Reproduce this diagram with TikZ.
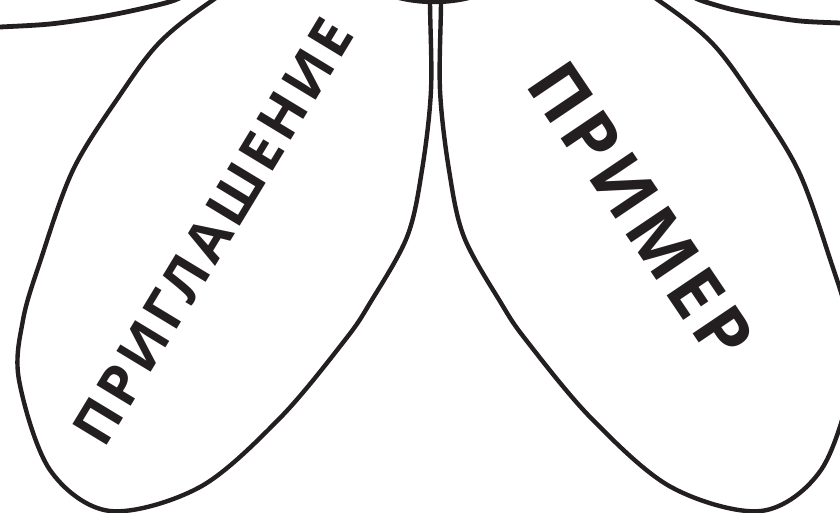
\documentclass[tikz,border=0pt]{standalone}
\usepackage{fontspec}
\setmainfont{Open Sans}
\definecolor{ink}{HTML}{231F20}
\newcommand\leftlabelfont{\fontsize{56}{66}\selectfont\bfseries}
\newcommand\rightlabelfont{\fontsize{72}{84}\selectfont\bfseries}
\newlength\natw
% #1 = word, #2 = number of letters, #3 = target width, #4 = font size (pt)
\newcommand\spreadword[4]{%
  \settowidth\natw{#1}%
  \pgfmathsetmacro\lsval{((#3)-\natw)/((#2)-1)/(#4)*100}%
  \addfontfeature{LetterSpace=\lsval}#1}
\tikzset{
  petalline/.style={draw=ink, line width=4.4pt},
  topline/.style={draw=ink, line width=4.8pt},
  petallabel/.style={inner sep=0pt, text=ink, anchor=center},
}
\begin{document}
\begin{tikzpicture}[x=1pt,y=-1pt]
\useasboundingbox (0,0) rectangle (840,513);
\clip (0,0) rectangle (840,513);
% upper side petals (only their lower edges are visible)
\draw[topline] plot[smooth] coordinates {(-30,28) (0,27) (50,24) (100,17) (140,9) (175,0) (200,-14)};
\draw[topline] plot[smooth] coordinates {(870,24) (840,23) (800,21) (760,15) (730,9) (700,0) (680,-10)};
% left petal
\draw[petalline, fill=white] plot[smooth cycle, tension=0.55] coordinates {
  (431,-70) (430,0) (431,90) (422,170) (407,237) (370,303) (345,340) (280,418)
  (200,487) (110,511) (50,470) (19,380) (23,320) (40,262) (73,170) (120,95)
  (160,42) (213,0) (300,-55)};
% right petal (mirror image)
\begin{scope}[shift={(871,0)}, xscale=-1]
\draw[petalline, fill=white] plot[smooth cycle, tension=0.55] coordinates {
  (431,-70) (430,0) (431,90) (422,170) (407,237) (370,303) (345,340) (280,418)
  (200,487) (110,511) (50,470) (19,380) (23,320) (40,262) (73,170) (120,95)
  (160,42) (213,0) (300,-55)};
\end{scope}
% flower centre
\draw[draw=ink, line width=4.4pt, fill=white] (434,-148) circle[radius=150];
% labels
\node[petallabel, rotate=58.8] (invite) at (213,232)
  {\leftlabelfont\spreadword{ПРИГЛАШЕНИЕ}{11}{485pt}{56}};
\node[petallabel, rotate=-56] (example) at (641,211)
  {\rightlabelfont\spreadword{ПРИМЕР}{6}{340pt}{72}};
\end{tikzpicture}
\end{document}
